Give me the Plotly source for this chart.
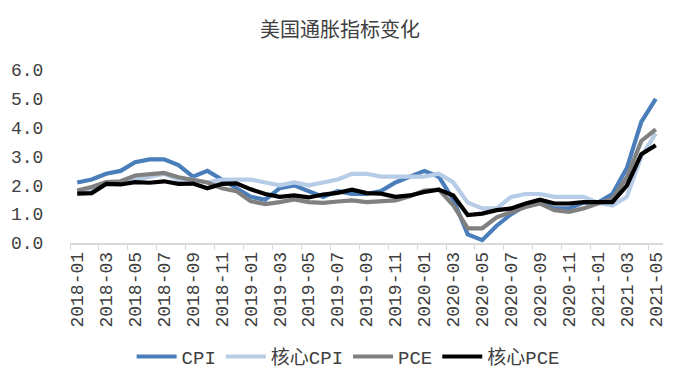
import plotly.graph_objects as go

months = [f"{y}-{m:02d}" for y in (2018, 2019, 2020, 2021) for m in range(1, 13)][:41]

cpi = [2.1, 2.2, 2.4, 2.5, 2.8, 2.9, 2.9, 2.7, 2.3, 2.5, 2.2, 1.9,
       1.6, 1.5, 1.9, 2.0, 1.8, 1.6, 1.8, 1.7, 1.7, 1.8, 2.1, 2.3,
       2.5, 2.3, 1.5, 0.3, 0.1, 0.6, 1.0, 1.3, 1.4, 1.2, 1.2, 1.4,
       1.4, 1.7, 2.6, 4.2, 5.0]
core_cpi = [1.8, 1.8, 2.1, 2.1, 2.2, 2.3, 2.4, 2.2, 2.2, 2.1, 2.2, 2.2,
            2.2, 2.1, 2.0, 2.1, 2.0, 2.1, 2.2, 2.4, 2.4, 2.3, 2.3, 2.3,
            2.3, 2.4, 2.1, 1.4, 1.2, 1.2, 1.6, 1.7, 1.7, 1.6, 1.6, 1.6,
            1.4, 1.3, 1.6, 3.0, 3.8]
pce = [1.82, 1.94, 2.11, 2.14, 2.34, 2.39, 2.43, 2.28, 2.2, 2.1, 1.9, 1.8,
       1.45, 1.35, 1.42, 1.51, 1.42, 1.39, 1.44, 1.48, 1.42, 1.46, 1.48, 1.62,
       1.82, 1.85, 1.31, 0.51, 0.51, 0.89, 1.08, 1.25, 1.37, 1.14, 1.08, 1.2,
       1.37, 1.54, 2.28, 3.54, 3.94]
core_pce = [1.71, 1.73, 2.05, 2.03, 2.11, 2.09, 2.14, 2.05, 2.06, 1.9, 2.05, 2.07,
            1.86, 1.7, 1.6, 1.65, 1.58, 1.68, 1.74, 1.85, 1.73, 1.71, 1.6, 1.65,
            1.77, 1.85, 1.65, 0.97, 1.02, 1.14, 1.2, 1.37, 1.5, 1.37, 1.37, 1.42,
            1.42, 1.42, 1.99, 3.08, 3.39]

series = [("CPI", cpi, "#4a7ebb"),
          ("核心CPI", core_cpi, "#b7cce6"),
          ("PCE", pce, "#808080"),
          ("核心PCE", core_pce, "#000000")]

y_ticks = [0, 1, 2, 3, 4, 5, 6]
y_labels = ["0.0", "1.0", "2.0", "3.0", "4.0", "5.0", "6.0"]

MONO = "Liberation Mono, Noto Sans CJK SC, monospace"
TXT = "#404040"

fig = go.Figure()
for name, vals, color in series:
    fig.add_trace(go.Scatter(x=months, y=vals, name=name, mode="lines",
                             line=dict(color=color, width=4.2)))

fig.update_layout(
    width=672, height=380,
    margin=dict(l=62, r=17, t=62, b=143),
    paper_bgcolor="white", plot_bgcolor="white",
    title=dict(text="美国通胀指标变化", x=0.494, xanchor="center", y=0.942, yanchor="middle",
               font=dict(family="Noto Sans CJK SC", size=20, color="#404040")),
    font=dict(family=MONO, size=16, color=TXT),
    showlegend=True,
    legend=dict(orientation="h", x=0.469, xanchor="center", y=-0.657, yanchor="middle",
                font=dict(family=MONO, size=19, color=TXT),
                itemwidth=40, traceorder="normal"),
)
fig.update_xaxes(type="category", range=[-0.5, 40.5], tickmode="linear", dtick=2, tick0=0,
                 tickson="boundaries", ticks="outside", ticklen=5, tickcolor="#d9d9d9",
                 showline=True, linecolor="#d9d9d9", linewidth=1.5, showgrid=False,
                 automargin=False,
                 tickangle=-90, tickfont=dict(family=MONO, size=18, color=TXT))
fig.update_yaxes(range=[0, 6], tickvals=y_ticks, ticktext=y_labels, showgrid=False,
                 zeroline=False, showline=False, ticks="outside", ticklen=22,
                 tickcolor="rgba(0,0,0,0)", automargin=False,
                 tickfont=dict(family=MONO, size=18, color=TXT))

fig.write_html("out.html", config={"displayModeBar": False})
